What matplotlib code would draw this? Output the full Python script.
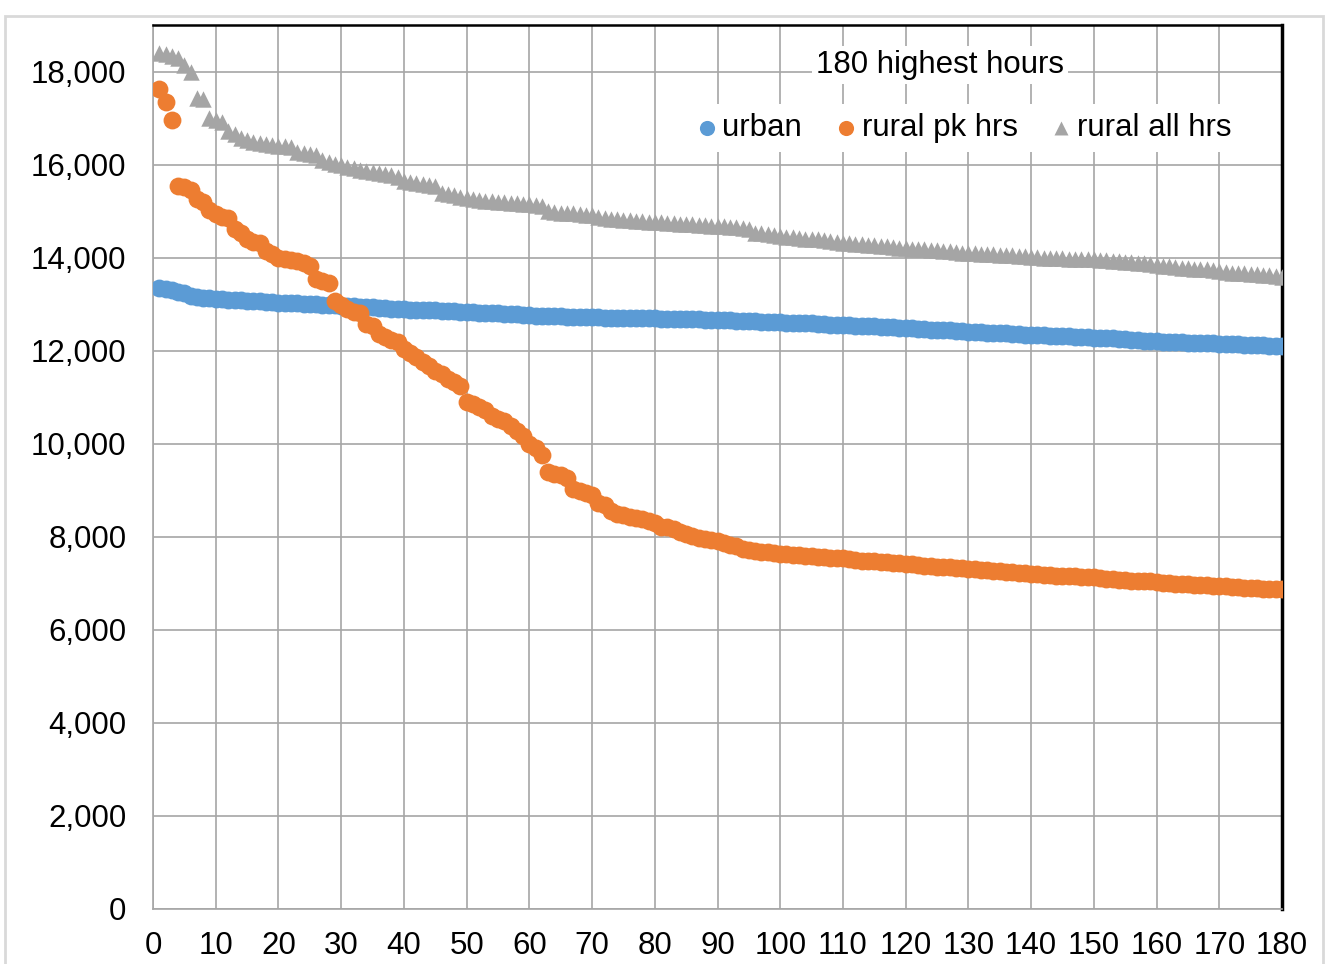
import numpy as np
import matplotlib.pyplot as plt
from matplotlib.patches import Rectangle
from matplotlib.ticker import FuncFormatter

plt.rcParams['font.family'] = ['Liberation Sans', 'DejaVu Sans']

hours = list(range(1, 181))

urban = [13350, 13330, 13300, 13270, 13230, 13180, 13160, 13140, 13130, 13120,
         13110, 13100, 13090, 13080, 13075, 13070, 13060, 13050, 13040, 13030,
         13025, 13020, 13015, 13010, 13000, 12995, 12990, 12985, 12975, 12960,
         12955, 12950, 12945, 12940, 12930, 12920, 12910, 12905, 12895, 12890,
         12885, 12880, 12875, 12870, 12865, 12860, 12850, 12845, 12840, 12830,
         12825, 12820, 12815, 12810, 12800, 12790, 12785, 12780, 12770, 12760,
         12755, 12750, 12745, 12740, 12735, 12730, 12725, 12720, 12720, 12715,
         12715, 12710, 12710, 12705, 12705, 12700, 12700, 12700, 12695, 12695,
         12690, 12690, 12685, 12685, 12680, 12680, 12675, 12670, 12665, 12660,
         12655, 12650, 12645, 12640, 12635, 12630, 12625, 12620, 12615, 12610,
         12605, 12600, 12595, 12590, 12585, 12575, 12565, 12560, 12555, 12550,
         12545, 12540, 12535, 12530, 12520, 12510, 12505, 12500, 12495, 12490,
         12480, 12470, 12460, 12450, 12445, 12440, 12435, 12430, 12420, 12410,
         12400, 12395, 12390, 12385, 12380, 12370, 12360, 12350, 12345, 12340,
         12335, 12330, 12325, 12320, 12315, 12305, 12295, 12290, 12285, 12280,
         12275, 12270, 12265, 12255, 12245, 12235, 12225, 12215, 12205, 12200,
         12195, 12190, 12185, 12180, 12175, 12170, 12165, 12160, 12155, 12150,
         12145, 12140, 12135, 12130, 12125, 12120, 12115, 12110, 12105, 12100]

rural_pk = [17620, 17350, 16960, 15550, 15520, 15460, 15250, 15200, 15020, 14940,
            14880, 14850, 14620, 14520, 14400, 14340, 14320, 14150, 14080, 14000,
            13960, 13940, 13920, 13890, 13820, 13540, 13490, 13460, 13070, 12980,
            12900, 12840, 12800, 12570, 12520, 12360, 12300, 12230, 12190, 12030,
            11940, 11860, 11750, 11680, 11560, 11500, 11400, 11330, 11240, 10900,
            10860, 10780, 10720, 10600, 10540, 10490, 10380, 10270, 10160, 9990,
            9900, 9760, 9390, 9350, 9320, 9260, 9020, 8980, 8940, 8890,
            8720, 8680, 8550, 8500, 8460, 8430, 8400, 8380, 8350, 8290,
            8220, 8200, 8170, 8100, 8050, 8020, 7980, 7950, 7930, 7900,
            7860, 7820, 7800, 7740, 7710, 7700, 7680, 7670, 7650, 7630,
            7620, 7610, 7600, 7590, 7580, 7570, 7560, 7550, 7545, 7535,
            7520, 7500, 7490, 7480, 7470, 7460, 7450, 7440, 7430, 7420,
            7405, 7390, 7380, 7365, 7355, 7345, 7340, 7335, 7325, 7315,
            7305, 7295, 7285, 7270, 7260, 7250, 7240, 7230, 7220, 7210,
            7195, 7185, 7175, 7165, 7160, 7155, 7150, 7145, 7140, 7135,
            7120, 7100, 7085, 7075, 7065, 7055, 7050, 7045, 7040, 7030,
            7015, 7005, 6995, 6985, 6975, 6965, 6960, 6955, 6950, 6945,
            6935, 6925, 6915, 6905, 6895, 6890, 6885, 6880, 6875, 6870]

rural_all = [18400, 18370, 18340, 18300, 18140, 17980, 17440, 17400, 17000, 16960,
             16920, 16730, 16650, 16580, 16520, 16480, 16460, 16440, 16420, 16400,
             16390, 16380, 16280, 16250, 16220, 16200, 16100, 16060, 16020, 15990,
             15940, 15920, 15890, 15860, 15830, 15810, 15790, 15770, 15740, 15650,
             15630, 15610, 15580, 15560, 15530, 15390, 15370, 15340, 15300, 15280,
             15260, 15240, 15220, 15210, 15200, 15190, 15180, 15170, 15160, 15150,
             15130, 15100, 15000, 14990, 14970, 14960, 14950, 14930, 14920, 14910,
             14880, 14850, 14830, 14820, 14810, 14800, 14790, 14780, 14770, 14765,
             14760, 14750, 14740, 14730, 14725, 14720, 14710, 14700, 14690, 14680,
             14670, 14660, 14650, 14630, 14610, 14540, 14520, 14500, 14480, 14460,
             14450, 14440, 14430, 14410, 14400, 14390, 14375, 14360, 14345, 14320,
             14310, 14300, 14290, 14280, 14270, 14260, 14245, 14230, 14215, 14205,
             14195, 14185, 14175, 14165, 14155, 14145, 14135, 14125, 14110, 14100,
             14090, 14080, 14075, 14070, 14060, 14055, 14050, 14040, 14030, 14020,
             14010, 14000, 13995, 13990, 13985, 13980, 13975, 13970, 13965, 13960,
             13950, 13940, 13930, 13920, 13910, 13900, 13890, 13880, 13865, 13850,
             13830, 13810, 13795, 13785, 13775, 13765, 13755, 13745, 13735, 13710,
             13690, 13680, 13670, 13660, 13650, 13640, 13630, 13620, 13610, 13580]

series_names = ['urban', 'rural pk hrs', 'rural all hrs']
chart_title = '180 highest hours'

fig = plt.figure(figsize=(13.28, 9.64), dpi=100)
ax = fig.add_axes([153 / 1328, 55 / 964, 1129 / 1328, 884 / 964])

# light border around the whole chart
fig.patches.append(Rectangle((5 / 1328, -0.01), 1318 / 1328, 0.9935, transform=fig.transFigure,
                             fill=False, edgecolor='#d9d9d9', linewidth=2))

grid_c = '#a6a6a6'
ax.scatter(hours, urban, s=165, color='#5B9BD5', label=series_names[0], zorder=3, linewidths=0)
ax.scatter(hours, rural_pk, s=165, color='#ED7D31', label=series_names[1], zorder=4, linewidths=0)
ax.scatter(hours, rural_all, s=140, marker='^', color='#A5A5A5', label=series_names[2], zorder=5, linewidths=0)

ax.set_xlim(0, 180)
ax.set_ylim(0, 19000)
ax.set_xticks(np.arange(0, 181, 10))
ax.set_yticks(np.arange(0, 18001, 2000))
ax.yaxis.set_major_formatter(FuncFormatter(lambda v, p: f'{int(v):,}'))
ax.grid(True, color=grid_c, linewidth=1.2, zorder=0)
ax.set_axisbelow(True)
ax.tick_params(axis='both', length=0, labelsize=22.5, colors='black')
ax.tick_params(axis='y', pad=19)
ax.tick_params(axis='x', pad=16)

ax.spines['left'].set_color(grid_c)
ax.spines['bottom'].set_color(grid_c)
ax.spines['left'].set_linewidth(1.2)
ax.spines['bottom'].set_linewidth(1.2)
ax.spines['top'].set_color('black')
ax.spines['top'].set_linewidth(1.8)
ax.spines['right'].set_color('black')
ax.spines['right'].set_linewidth(2.5)

ax.text(0.697, 0.955, chart_title, transform=ax.transAxes, fontsize=22.5, ha='center', va='center',
        bbox=dict(facecolor='white', edgecolor='none', pad=3), zorder=6)

leg = ax.legend(loc='center', bbox_to_anchor=(0.716, 0.8835), ncol=3, fontsize=22.5,
                frameon=True, framealpha=1, facecolor='white', edgecolor='none',
                markerscale=0.85, handletextpad=0.0, columnspacing=0.9,
                handlelength=1.0, borderpad=0.3, fancybox=False)
leg.set_zorder(6)

fig.savefig('out.png', dpi=100)
